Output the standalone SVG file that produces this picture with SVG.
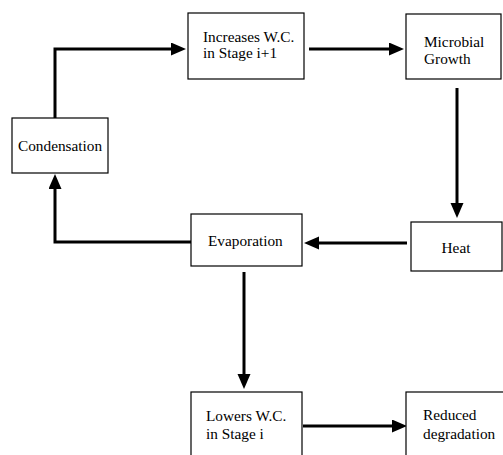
<svg xmlns="http://www.w3.org/2000/svg" width="503" height="455" viewBox="0 0 503 455">
<style>
.box{fill:#fff;stroke:#000;stroke-width:1.2}
.t{font-family:"Liberation Serif","Times New Roman",serif;font-size:15.3px;fill:#000}
.c{fill:none;stroke:#000;stroke-width:3}
</style>
<defs>
<marker id="ah" markerUnits="userSpaceOnUse" markerWidth="16" markerHeight="14" refX="4" refY="6.5" orient="auto">
<path d="M0,0 L15,6.5 L0,13 z" fill="#000"/>
</marker>
</defs>
<rect width="503" height="455" fill="#fff"/>
<g id="connectors">
<path class="c" d="M55,118 L55,49 L175,49" marker-end="url(#ah)"/>
<path class="c" d="M309,49 L393,49" marker-end="url(#ah)"/>
<path class="c" d="M457,88 L457,207" marker-end="url(#ah)"/>
<path class="c" d="M407,243 L315,243" marker-end="url(#ah)"/>
<path class="c" d="M191,242 L55,242 L55,185" marker-end="url(#ah)"/>
<path class="c" d="M244,272 L244,378" marker-end="url(#ah)"/>
<path class="c" d="M303,426 L396,426" marker-end="url(#ah)"/>
</g>
<g id="condensation">
<rect class="box" x="12" y="118" width="96" height="55"/>
<text class="t" x="18" y="151">Condensation</text>
</g>
<g id="increases">
<rect class="box" x="188" y="13" width="116" height="66"/>
<text class="t" x="203" y="42">Increases W.C.</text>
<text class="t" x="203" y="58">in Stage i+1</text>
</g>
<g id="microbial">
<rect class="box" x="406" y="14" width="95" height="65"/>
<text class="t" x="424" y="47">Microbial</text>
<text class="t" x="424" y="64">Growth</text>
</g>
<g id="heat">
<rect class="box" x="411" y="222" width="91" height="49"/>
<text class="t" x="456" y="253" text-anchor="middle">Heat</text>
</g>
<g id="evaporation">
<rect class="box" x="191" y="214" width="111" height="52"/>
<text class="t" x="208" y="246">Evaporation</text>
</g>
<g id="lowers">
<rect class="box" x="191" y="392" width="111" height="80"/>
<text class="t" x="206" y="421">Lowers W.C.</text>
<text class="t" x="206" y="439">in Stage i</text>
</g>
<g id="reduced">
<rect class="box" x="406" y="392" width="110" height="80"/>
<text class="t" x="423" y="420">Reduced</text>
<text class="t" x="423" y="439">degradation</text>
</g>
</svg>
